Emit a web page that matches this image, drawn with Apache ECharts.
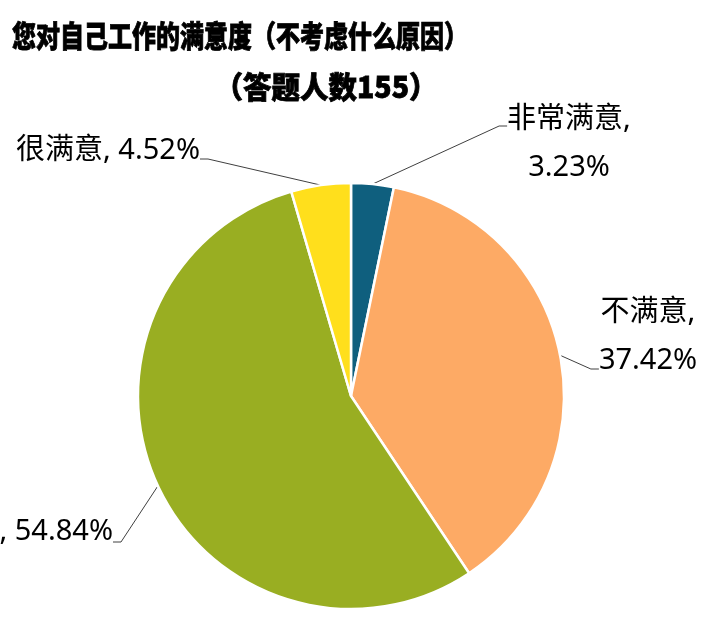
<!DOCTYPE html>
<html>
<head>
<meta charset="utf-8">
<script src="https://cdn.jsdelivr.net/npm/echarts@6/dist/echarts.min.js"></script>
<style>
html,body{margin:0;padding:0;background:#fff;}
#c{width:707px;height:624px;}
</style>
</head>
<body>
<div id="c"></div>
<script>
const titleText = '您对自己工作的满意度（不考虑什么原因）';
const subtitleText = '（答题人数155）';
const categories = ['非常满意', '不满意', '一般', '很满意'];
const values = [3.23, 37.42, 54.84, 4.52];
const colors = ['#0F5F7E', '#FDAA65', '#99AE22', '#FFDF1C'];

// label layout (style only): line break, anchor point, alignment, spacer above/below
const labelBreak = [true, true, false, false];
const labelPos = [
  {x: 569, y: 126, align: 'center', gapTop: 36, gapBottom: 0},
  {x: 648, y: 369, align: 'center', gapTop: 0, gapBottom: 64},
  {x: 113, y: 542, align: 'right', gapTop: 0, gapBottom: 20},
  {x: 200, y: 159, align: 'right', gapTop: 0, gapBottom: 16}
];

const FONT = '"Noto Sans", "Noto Sans CJK SC", sans-serif';
const chart = echarts.init(document.getElementById('c'), null, {renderer: 'canvas'});

const data = categories.map((name, i) => {
  const lp = labelPos[i];
  return {
    name: name,
    value: values[i],
    itemStyle: {color: colors[i]},
    label: {
      rich: {
        gt: {fontSize: 1, lineHeight: Math.max(lp.gapTop, 1)},
        gb: {fontSize: 1, lineHeight: Math.max(lp.gapBottom, 1)},
        t: {fontSize: 29, lineHeight: 48, color: '#000', fontFamily: FONT}
      }
    }
  };
});

chart.setOption({
  animation: false,
  backgroundColor: '#ffffff',
  graphic: [
    {
      type: 'text', x: 12, y: 36, scaleX: 0.8,
      style: {text: titleText, fill: '#000', stroke: '#000', lineWidth: 0.8,
        textAlign: 'left', textVerticalAlign: 'middle',
        fontSize: 30, fontWeight: 900, fontFamily: '"Noto Sans CJK SC", sans-serif'}
    },
    {
      type: 'text', x: 326, y: 87, scaleX: 0.95,
      style: {text: subtitleText, fill: '#000', stroke: '#000', lineWidth: 0.8,
        textAlign: 'center', textVerticalAlign: 'middle',
        fontSize: 30, fontWeight: 900, fontFamily: '"Noto Sans CJK SC", sans-serif'}
    }
  ],
  series: [{
    type: 'pie',
    center: [351, 396],
    radius: 213,
    startAngle: 90,
    clockwise: true,
    avoidLabelOverlap: false,
    itemStyle: {borderColor: '#ffffff', borderWidth: 2.5},
    label: {
      show: true,
      position: 'outside',
      color: '#000',
      fontSize: 29,
      lineHeight: 48,
      fontFamily: FONT,
      formatter: function (p) {
        const lp = labelPos[p.dataIndex];
        const val = p.value.toFixed(2) + '%';
        let body = labelBreak[p.dataIndex]
          ? '{t|' + p.name + ',}\n{t|' + val + '}'
          : '{t|' + p.name + ', ' + val + '}';
        if (lp.gapTop) body = '{gt| }\n' + body;
        if (lp.gapBottom) body = body + '\n{gb| }';
        return body;
      }
    },
    labelLine: {
      show: true, length: 10, length2: 8, smooth: false,
      lineStyle: {color: '#404040', width: 1}
    },
    labelLayout: function (params) {
      const p = labelPos[params.dataIndex];
      return {x: p.x, y: p.y, align: p.align, verticalAlign: 'middle'};
    },
    emphasis: {disabled: true},
    data: data
  }]
});
</script>
</body>
</html>
